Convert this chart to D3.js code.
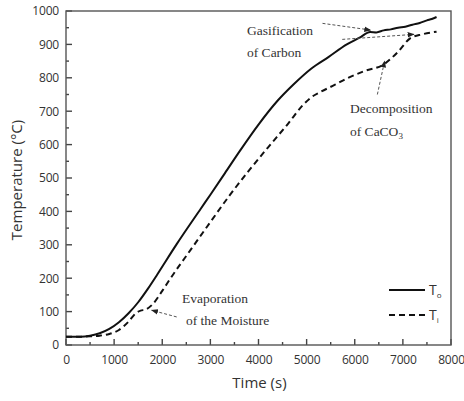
<!DOCTYPE html>
<html>
<head>
<meta charset="utf-8">
<script src="https://cdn.jsdelivr.net/npm/d3@7"></script>
<style>
  body { margin: 0; background: #fff; }
  .tick text { font-family: "Open Sans", sans-serif; font-size: 12px; fill: #333; letter-spacing: -0.2px; }
  .note { font-family: "Liberation Serif", serif; font-size: 13.5px; fill: #333; }
</style>
</head>
<body>
<script>
// width and height
var w = 464;
var h = 401;
var margin = {top: 11, right: 13, bottom: 56, left: 66};

// series: time (s) and temperature (C)
var timeO = [0, 300, 500, 700, 900, 1100, 1300, 1500, 1700, 1900, 2300, 2800, 3000, 3300, 3617, 4000, 4400, 4726, 5100, 5453, 5835, 6100, 6320, 6450, 6600, 6750, 6900, 7050, 7200, 7350, 7500, 7600, 7700];
var tempO = [25, 25, 28, 35, 48, 68, 95, 128, 168, 212, 302, 408, 450, 514, 582, 660, 732, 780, 828, 862, 900, 920, 937, 936, 942, 945, 950, 953, 959, 964, 972, 976, 982];
var timeI = [0, 300, 500, 700, 900, 1100, 1300, 1450, 1550, 1650, 1800, 2000, 2150, 2600, 3000, 3400, 3800, 4200, 4600, 4933, 5100, 5280, 5600, 5835, 6200, 6600, 6900, 7150, 7400, 7700];
var tempI = [25, 25, 26, 28, 33, 45, 70, 95, 103, 106, 122, 162, 195, 287, 368, 448, 522, 592, 660, 720, 742, 757, 780, 798, 820, 840, 878, 918, 930, 938];

var xTicks = [0, 1000, 2000, 3000, 4000, 5000, 6000, 7000, 8000];
var yTicks = [0, 100, 200, 300, 400, 500, 600, 700, 800, 900, 1000];

var dataO = timeO.map(function(t, i) { return {t: t, v: tempO[i]}; });
var dataI = timeI.map(function(t, i) { return {t: t, v: tempI[i]}; });

var xScale = d3.scaleLinear().domain([0, 8000]).range([margin.left, w - margin.right]);
var yScale = d3.scaleLinear().domain([0, 1000]).range([h - margin.bottom, margin.top]);

var svg = d3.select("body").append("svg")
            .attr("width", w)
            .attr("height", h);

var defs = svg.append("defs");
defs.append("marker")
    .attr("id", "arrow")
    .attr("viewBox", "0 0 10 10")
    .attr("refX", 9).attr("refY", 5)
    .attr("markerWidth", 7).attr("markerHeight", 7)
    .attr("orient", "auto")
  .append("path")
    .attr("d", "M0,1 L10,5 L0,9 z")
    .attr("fill", "#222");

// minor ticks (inward)
var xMinor = d3.range(500, 8000, 1000);
var yMinor = d3.range(50, 1000, 100);

var xAxis = d3.axisBottom(xScale).tickValues(xTicks).tickSize(0).tickPadding(10).tickFormat(d3.format("d"));
var yAxis = d3.axisLeft(yScale).tickValues(yTicks).tickSize(0).tickPadding(7).tickFormat(d3.format("d"));

var gx = svg.append("g")
   .attr("transform", "translate(0," + (h - margin.bottom) + ")")
   .call(xAxis);
var gy = svg.append("g")
   .attr("transform", "translate(" + margin.left + ",0)")
   .call(yAxis);
gx.select(".domain").remove();
gy.select(".domain").remove();

// tick marks drawn inside the frame
svg.selectAll(".xmaj").data(xTicks).enter().append("line")
   .attr("x1", function(d) { return xScale(d); }).attr("x2", function(d) { return xScale(d); })
   .attr("y1", yScale(0)).attr("y2", yScale(0) - 6)
   .attr("stroke", "#444").attr("stroke-width", 1.4);
svg.selectAll(".xmin").data(xMinor).enter().append("line")
   .attr("x1", function(d) { return xScale(d); }).attr("x2", function(d) { return xScale(d); })
   .attr("y1", yScale(0)).attr("y2", yScale(0) - 3)
   .attr("stroke", "#444").attr("stroke-width", 1.4);
svg.selectAll(".ymaj").data(yTicks).enter().append("line")
   .attr("x1", xScale(0)).attr("x2", xScale(0) + 6)
   .attr("y1", function(d) { return yScale(d); }).attr("y2", function(d) { return yScale(d); })
   .attr("stroke", "#444").attr("stroke-width", 1.4);
svg.selectAll(".ymin").data(yMinor).enter().append("line")
   .attr("x1", xScale(0)).attr("x2", xScale(0) + 3)
   .attr("y1", function(d) { return yScale(d); }).attr("y2", function(d) { return yScale(d); })
   .attr("stroke", "#444").attr("stroke-width", 1.4);

// frame
svg.append("rect")
   .attr("x", xScale(0)).attr("y", yScale(1000))
   .attr("width", xScale(8000) - xScale(0))
   .attr("height", yScale(0) - yScale(1000))
   .attr("fill", "none").attr("stroke", "#555").attr("stroke-width", 1.4);

// lines
var line = d3.line()
             .x(function(d) { return xScale(d.t); })
             .y(function(d) { return yScale(d.v); })
             .curve(d3.curveMonotoneX);

svg.append("path").datum(dataO)
   .attr("d", line)
   .attr("fill", "none").attr("stroke", "#111").attr("stroke-width", 2);

svg.append("path").datum(dataI)
   .attr("d", line)
   .attr("fill", "none").attr("stroke", "#111").attr("stroke-width", 2)
   .attr("stroke-dasharray", "6,4");

// axis titles
svg.append("text")
   .attr("x", (xScale(0) + xScale(8000)) / 2 + 1).attr("y", 388)
   .attr("text-anchor", "middle")
   .attr("font-family", "Open Sans, sans-serif").attr("font-size", 15).attr("fill", "#333")
   .text("Time (s)");
svg.append("text")
   .attr("transform", "translate(22," + (yScale(500) + 2) + ") rotate(-90)")
   .attr("text-anchor", "middle")
   .attr("font-family", "Open Sans, sans-serif").attr("font-size", 15).attr("fill", "#333")
   .text("Temperature (°C)");

// annotations
function note(x, y, parts) {
  var t = svg.append("text").attr("class", "note").attr("x", x).attr("y", y);
  parts.forEach(function(p) {
    var s = t.append("tspan").text(p.s);
    if (p.sub) s.attr("font-size", 9).attr("dy", 3);
  });
}
note(247, 35, [{s: "Gasification"}]);
note(247, 57, [{s: "of Carbon"}]);
note(350, 113, [{s: "Decomposition"}]);
note(350, 136, [{s: "of CaCO"}, {s: "3", sub: true}]);
note(182, 303, [{s: "Evaporation"}]);
note(186, 325, [{s: "of the Moisture"}]);

function arrow(t0, v0, t1, v1) {
  svg.append("line")
     .attr("x1", xScale(t0)).attr("y1", yScale(v0))
     .attr("x2", xScale(t1)).attr("y2", yScale(v1))
     .attr("stroke", "#555").attr("stroke-width", 1)
     .attr("stroke-dasharray", "3,2")
     .attr("marker-end", "url(#arrow)");
}
arrow(5330, 963, 6330, 943);
arrow(5740, 915, 7230, 930);
arrow(6470, 750, 6620, 850);
arrow(2300, 84, 1780, 104);

// legend
var legend = svg.append("g");
legend.append("line").attr("x1", 389).attr("x2", 425).attr("y1", 290).attr("y2", 290)
      .attr("stroke", "#111").attr("stroke-width", 2);
legend.append("line").attr("x1", 389).attr("x2", 425).attr("y1", 315).attr("y2", 315)
      .attr("stroke", "#111").attr("stroke-width", 2).attr("stroke-dasharray", "6,4");
var lt1 = legend.append("text").attr("x", 429).attr("y", 295)
      .attr("font-family", "Open Sans, sans-serif").attr("font-size", 14).attr("fill", "#333");
lt1.append("tspan").text("T");
lt1.append("tspan").attr("font-size", 8).attr("dy", 3).text("o");
var lt2 = legend.append("text").attr("x", 429).attr("y", 320)
      .attr("font-family", "Open Sans, sans-serif").attr("font-size", 14).attr("fill", "#333");
lt2.append("tspan").text("T");
lt2.append("tspan").attr("font-size", 8).attr("dy", 3).text("i");
</script>
</body>
</html>
